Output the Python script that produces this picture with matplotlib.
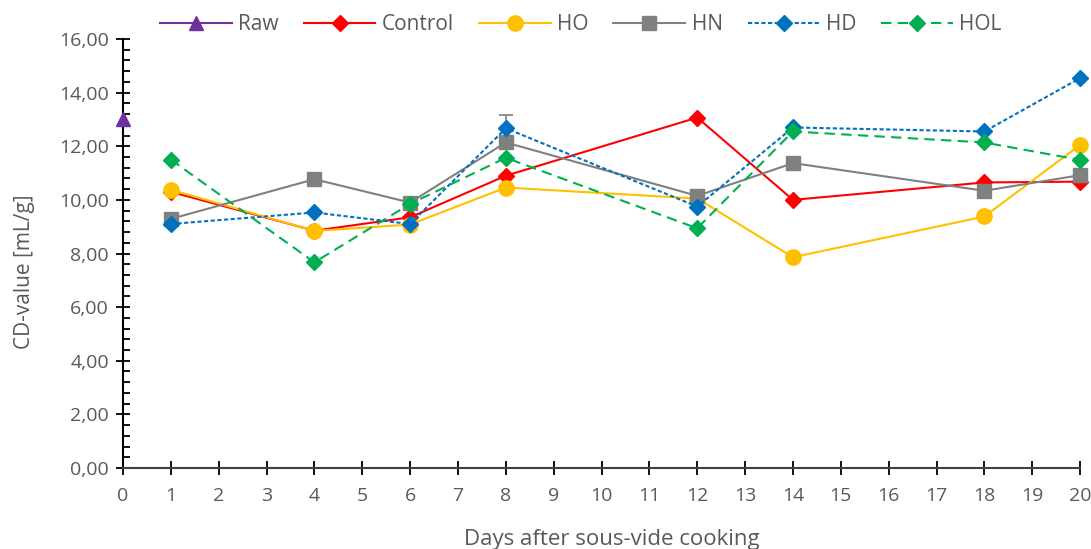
import matplotlib.pyplot as plt
from matplotlib.ticker import MultipleLocator, FuncFormatter

plt.rcParams['font.family'] = ['Open Sans', 'DejaVu Sans']

# CD-value [mL/g] measured on each storage day
raw_days = [0]
raw = [13.0]

days = [1, 4, 6, 8, 12, 14, 18, 20]
control = [10.30, 8.85, 9.35, 10.90, 13.07, 10.00, 10.65, 10.68]
ho = [10.38, 8.84, 9.08, 10.46, 10.05, 7.86, 9.38, 12.05]
hn = [9.29, 10.77, 9.90, 12.14, 10.15, 11.37, 10.34, 10.92]
hd = [9.10, 9.53, 9.10, 12.67, 9.75, 12.70, 12.55, 14.54]
hol = [11.50, 7.67, 9.85, 11.57, 8.94, 12.55, 12.14, 11.49]

# standard deviation of HD on day 8 (the only error bar shown)
hd_err = [0, 0, 0, 0.50, 0, 0, 0, 0]

fig = plt.figure(figsize=(10.91, 5.49), dpi=100)
ax = fig.add_axes([0.1127, 0.1475, 0.8773, 0.7815])

lw = 1.5
ax.plot(raw_days, raw, color='#7030A0', marker='^', markersize=10, lw=lw,
        label='Raw', clip_on=False, zorder=3)
ax.plot(days, control, color='#FF0000', marker='D', markersize=8.5, lw=lw,
        label='Control', clip_on=False, zorder=3)
ax.plot(days, ho, color='#FFC000', marker='o', markersize=11, lw=lw,
        label='HO', clip_on=False, zorder=3)
ax.plot(days, hn, color='#808080', marker='s', markersize=10, lw=lw,
        label='HN', clip_on=False, zorder=3)
ax.errorbar(days, hd, yerr=hd_err, fmt='none', ecolor='#7F7F7F', elinewidth=1.2,
            capsize=5, capthick=1.2, zorder=2)
ax.plot(days, hd, color='#0070C0', marker='D', markersize=8.5, lw=lw,
        dashes=(2, 1.2), label='HD', clip_on=False, zorder=3)
ax.plot(days, hol, color='#00B050', marker='D', markersize=8.5, lw=lw,
        dashes=(5, 3), label='HOL', clip_on=False, zorder=3)

ax.set_xlim(0, 20)
ax.set_ylim(0, 16)
ax.xaxis.set_major_locator(MultipleLocator(1))
ax.yaxis.set_major_locator(MultipleLocator(2))
ax.yaxis.set_minor_locator(MultipleLocator(0.4))
ax.yaxis.set_major_formatter(FuncFormatter(lambda v, p: f'{v:.2f}'.replace('.', ',')))

for side in ['top', 'right']:
    ax.spines[side].set_visible(False)
ax.spines['left'].set_linewidth(1.5)
ax.spines['bottom'].set_linewidth(1.5)
ax.spines['bottom'].set_color('#404040')

ax.tick_params(axis='both', which='major', direction='inout', length=10, width=1.3,
               labelsize=14, labelcolor='#595959', pad=5)
ax.tick_params(axis='y', which='minor', direction='in', length=5, width=1.3)
ax.tick_params(axis='x', pad=9)

ax.set_xlabel('Days after sous-vide cooking', fontsize=16, color='#595959')
ax.set_ylabel('CD-value [mL/g]', fontsize=15, color='#595959')
ax.xaxis.set_label_coords(0.511, -0.142)
ax.yaxis.set_label_coords(-0.092, 0.457)

ax.legend(loc='center left', bbox_to_anchor=(0.0387, 1.033), ncol=6, frameon=False,
          fontsize=15, labelcolor='#595959', handlelength=3.45, columnspacing=1.2,
          handletextpad=0.3, borderaxespad=0, borderpad=0)

fig.savefig('out.png', dpi=100)
